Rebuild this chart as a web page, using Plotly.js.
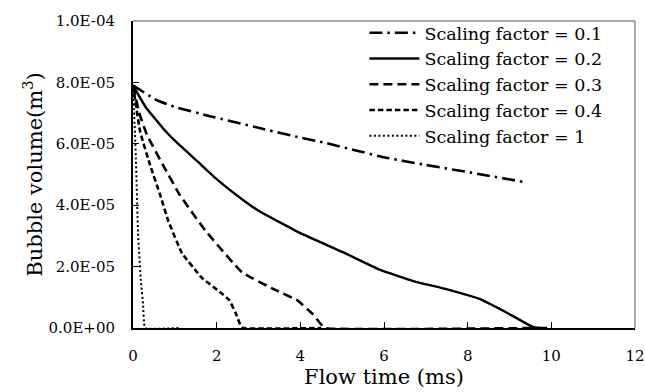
<!DOCTYPE html>
<html>
<head>
<meta charset="utf-8">
<script src="https://cdn.plot.ly/plotly-3.0.1.min.js"></script>
<style>html,body{margin:0;padding:0;background:#fff;}#chart{width:645px;height:392px;}</style>
</head>
<body>
<div id="chart"></div>
<script>
// Flow time (ms) and bubble volume (m^3) per scaling factor
var seriesNames = ["Scaling factor = 0.1", "Scaling factor = 0.2", "Scaling factor = 0.3", "Scaling factor = 0.4", "Scaling factor = 1"];

var t01 = [0, 0.57, 1, 1.84, 3, 4, 4.6, 6, 7, 8, 9.33];
var v01 = [7.9e-5, 7.42e-5, 7.2e-5, 6.9e-5, 6.52e-5, 6.2e-5, 6.03e-5, 5.56e-5, 5.31e-5, 5.08e-5, 4.76e-5];

var t02 = [0, 0.3, 0.72, 1.0, 1.53, 2, 2.63, 3, 4, 5, 5.91, 6.7, 7.51, 8.3, 8.95, 9.57, 9.9];
var v02 = [7.9e-5, 7.2e-5, 6.5e-5, 6.1e-5, 5.44e-5, 4.85e-5, 4.17e-5, 3.82e-5, 3.09e-5, 2.48e-5, 1.89e-5, 1.53e-5, 1.26e-5, 0.94e-5, 0.49e-5, 0.03e-5, 0];

var t03 = [0, 0.15, 0.33, 0.72, 1.12, 1.72, 2.6, 3.4, 3.93, 4.3, 4.47, 4.6, 9.6];
var v03 = [7.9e-5, 7.0e-5, 6.3e-5, 5.3e-5, 4.33e-5, 3.19e-5, 1.82e-5, 1.24e-5, 0.9e-5, 0.45e-5, 0.16e-5, 0, 0];

var t04 = [0, 0.17, 0.41, 0.65, 0.84, 1.17, 1.65, 2.1, 2.3, 2.45, 2.56, 2.63, 4.5];
var v04 = [7.9e-5, 6.4e-5, 5.3e-5, 4.33e-5, 3.5e-5, 2.44e-5, 1.63e-5, 1.15e-5, 0.91e-5, 0.5e-5, 0.12e-5, 0, 0];

var t1 = [0, 0.07, 0.12, 0.19, 0.24, 0.29, 1.1];
var v1 = [7.9e-5, 5.5e-5, 3.1e-5, 1.5e-5, 0.8e-5, 0, 0];

var yTickVals = [0, 2e-5, 4e-5, 6e-5, 8e-5, 1e-4];
var yTickText = ["0.0E+00", "2.0E-05", "4.0E-05", "6.0E-05", "8.0E-05", "1.0E-04"];

var FONT = "DejaVu Serif";

function mk(x, y, name, dash, width) {
  return {x: x, y: y, name: name, type: "scatter", mode: "lines",
          line: {color: "#000", width: width, dash: dash, shape: "spline", smoothing: 0.3}};
}

var data = [
  mk(t01, v01, seriesNames[0], "13px,5px,2.5px,5px", 2.6),
  mk(t02, v02, seriesNames[1], "solid", 2.4),
  mk(t03, v03, seriesNames[2], "9px,5px", 2.6),
  mk(t04, v04, seriesNames[3], "5.5px,3px", 2.6),
  mk(t1, v1, seriesNames[4], "2px,2.5px", 2)
];

var layout = {
  width: 645, height: 392,
  margin: {l: 133, r: 10, t: 21, b: 64},
  paper_bgcolor: "#fff", plot_bgcolor: "#fff",
  showlegend: true,
  font: {family: FONT, color: "#000"},
  legend: {x: 0.945, xanchor: "right", y: 1.02, yanchor: "top", bgcolor: "rgba(0,0,0,0)",
           font: {family: FONT, size: 17.5, color: "#000"}, tracegroupgap: 0, itemwidth: 50},
  xaxis: {range: [0, 12], dtick: 2, tick0: 0, showgrid: false, zeroline: false,
          showline: true, linecolor: "#000", linewidth: 2,
          ticks: "inside", ticklen: 6, tickcolor: "#000", tickwidth: 1,
          ticklabelstandoff: 13, ticklabeloverflow: "allow",
          tickfont: {family: FONT, size: 15, color: "#000"},
          title: {text: "Flow time (ms)", font: {family: FONT, size: 21, color: "#000"}, standoff: 3}},
  yaxis: {range: [0, 1e-4], tickvals: yTickVals, ticktext: yTickText, showgrid: false, zeroline: false,
          showline: true, linecolor: "#000", linewidth: 2,
          ticks: "inside", ticklen: 6, tickcolor: "#000", tickwidth: 1,
          ticklabelstandoff: 13,
          tickfont: {family: FONT, size: 15, color: "#000"},
          title: {text: "Bubble volume(m<sup>3</sup>)", font: {family: FONT, size: 21, color: "#000"}, standoff: 0}},
  shapes: [
    {type: "line", xref: "paper", yref: "paper", x0: 0, x1: 1, y0: 1, y1: 1, line: {color: "#555", width: 1}},
    {type: "line", xref: "paper", yref: "paper", x0: 1, x1: 1, y0: 0, y1: 1, line: {color: "#555", width: 1}}
  ]
};

Plotly.newPlot("chart", data, layout, {displayModeBar: false, staticPlot: true});
</script>
</body>
</html>
